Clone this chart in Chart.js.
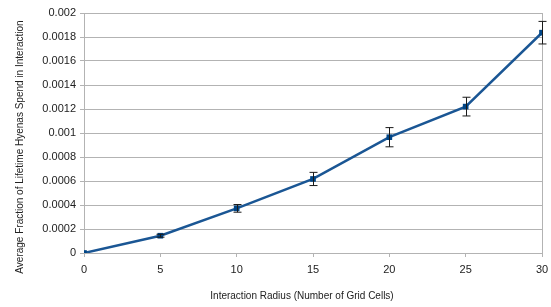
<!DOCTYPE html>
<html>
<head>
<meta charset="utf-8">
<script src="https://cdn.jsdelivr.net/npm/chart.js@4/dist/chart.umd.min.js"></script>
<style>
  body { margin: 0; background: #fff; }
  #wrap { width: 551px; height: 307px; position: relative; }
</style>
</head>
<body>
<div id="wrap"><canvas id="radiusChart"></canvas></div>
<script>
// Data
const radius = [0, 5, 10, 15, 20, 25, 30];
const meanFraction = [0, 0.000144, 0.000372, 0.000617, 0.000965, 0.00122, 0.001836];
const errorMargin = [0, 0.000012, 0.000032, 0.000055, 0.00008, 0.000078, 0.000094];
const xTitle = 'Interaction Radius (Number of Grid Cells)';
const yTitle = 'Average Fraction of Lifetime Hyenas Spend in Interaction';

const gridGray = '#b3b3b3';
const lineBlue = '#1a5694';
const markerBlue = '#004586';

// error bars, drawn through the scales
const errorBars = {
    id: 'errorBars',
    afterDatasetsDraw(chart) {
        const ctx = chart.ctx;
        const xs = chart.scales.x, ys = chart.scales.y;
        ctx.save();
        ctx.strokeStyle = '#1a1a1a';
        ctx.lineWidth = 1;
        radius.forEach(function (r, i) {
            if (!errorMargin[i]) return;
            const px = Math.round(xs.getPixelForValue(r)) + 0.5;
            const top = ys.getPixelForValue(meanFraction[i] + errorMargin[i]);
            const bot = ys.getPixelForValue(meanFraction[i] - errorMargin[i]);
            ctx.beginPath();
            ctx.moveTo(px, top); ctx.lineTo(px, bot);
            ctx.moveTo(px - 4, top); ctx.lineTo(px + 4, top);
            ctx.moveTo(px - 4, bot); ctx.lineTo(px + 4, bot);
            ctx.stroke();
        });
        ctx.restore();
    }
};

// axis titles placed where the original has them
const axisTitles = {
    id: 'axisTitles',
    afterDraw(chart) {
        const ctx = chart.ctx;
        ctx.save();
        ctx.fillStyle = '#222';
        ctx.font = '10px "Liberation Sans", Arial, sans-serif';
        ctx.textAlign = 'center';
        ctx.textBaseline = 'middle';
        ctx.fillText(xTitle, 302, 296);
        ctx.translate(20, 147);
        ctx.rotate(-Math.PI / 2);
        ctx.fillText(yTitle, 0, 0);
        ctx.restore();
    }
};

const ctx = document.getElementById('radiusChart').getContext('2d');
new Chart(ctx, {
    type: 'line',
    data: {
        datasets: [{
            data: radius.map((r, i) => ({ x: r, y: meanFraction[i] })),
            borderColor: lineBlue,
            backgroundColor: markerBlue,
            borderWidth: 2.5,
            tension: 0,
            pointStyle: 'rect',
            pointRadius: 4,
            pointBorderWidth: 0,
            pointBackgroundColor: markerBlue
        }]
    },
    options: {
        responsive: true,
        maintainAspectRatio: false,
        animation: false,
        layout: { padding: { top: 13, right: 9, left: 0, bottom: 0 } },
        plugins: {
            legend: { display: false },
            tooltip: { enabled: false }
        },
        scales: {
            x: {
                type: 'linear',
                min: 0,
                max: 30,
                afterFit: s => { s.height = 54; s.paddingLeft = 0; s.paddingRight = 0; },
                border: { display: true, color: gridGray },
                grid: {
                    color: c => (c.tick && c.tick.value === 30 ? gridGray : 'transparent'),
                    tickColor: gridGray,
                    tickLength: 4
                },
                ticks: {
                    stepSize: 5,
                    padding: 6,
                    color: '#222',
                    font: { family: '"Liberation Sans", Arial, sans-serif', size: 11 }
                }
            },
            y: {
                min: 0,
                max: 0.002,
                afterFit: s => { s.width = 84; },
                border: { display: true, color: gridGray },
                grid: { color: gridGray, tickLength: 4 },
                ticks: {
                    stepSize: 0.0002,
                    padding: 4,
                    color: '#222',
                    font: { family: '"Liberation Sans", Arial, sans-serif', size: 11 },
                    callback: v => String(+v.toFixed(4))
                }
            }
        }
    },
    plugins: [errorBars, axisTitles]
});
</script>
</body>
</html>
